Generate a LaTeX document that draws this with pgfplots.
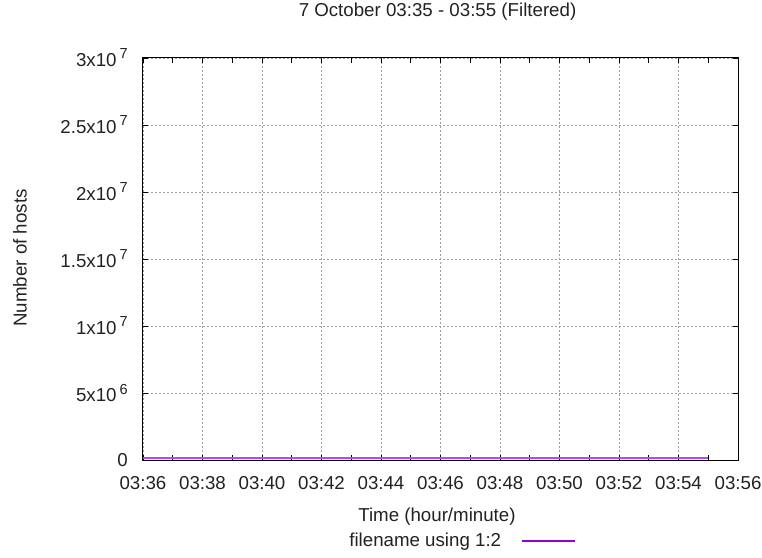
\documentclass[border=0pt]{standalone}
\usepackage{fontspec}
\setmainfont{Liberation Sans}
\usepackage{pgfplots}
\pgfplotsset{compat=1.18}
\definecolor{gpviolet}{HTML}{9400D3}
\definecolor{txtgray}{HTML}{222222}
\newcommand{\sci}[2]{#1x10\,\raisebox{0.42em}{\fontsize{14.5}{15}\selectfont #2}}
\newcommand{\bigfont}{\fontsize{18.7}{22}\selectfont}

\begin{document}
\bigfont
\begin{tikzpicture}[x=1pt,y=1pt,font=\bigfont]
\useasboundingbox (-143,-97) rectangle (619,460);
\begin{axis}[
  at={(0,0)}, anchor=south west,
  scale only axis, width=595pt, height=402pt,
  xmin=36, xmax=56, ymin=0, ymax=3e7,
  xtick={36,38,...,56},
  xticklabels={03:36,03:38,03:40,03:42,03:44,03:46,03:48,03:50,03:52,03:54,03:56},
  minor xtick={37,39,...,55},
  ytick={0,5e6,1e7,1.5e7,2e7,2.5e7,3e7},
  yticklabels={0,\sci{5}{6},\sci{1}{7},\sci{1.5}{7},\sci{2}{7},\sci{2.5}{7},\sci{3}{7}},
  scaled y ticks=false,
  xmajorgrids, ymajorgrids,
  major grid style={dash pattern=on 1.6pt off 2.4pt, gray!75, line width=0.7pt},
  tick align=inside,
  major tick length=5pt, minor tick length=5pt,
  every tick/.style={black, line width=0.8pt},
  axis line style={black, line width=1pt},
  xticklabel style={anchor=north, inner sep=0pt, yshift=-16pt, text=txtgray},
  yticklabel style={anchor=east, inner sep=0pt, xshift=-15pt, text=txtgray},
  title={7 October 03:35 - 03:55 (Filtered)},
  title style={at={(axis description cs:0.495,1.0995)}, anchor=center, inner sep=0pt, text=txtgray},
  xlabel={Time (hour/minute)},
  xlabel style={at={(axis description cs:0.494,-0.1418)}, anchor=center, inner sep=0pt, text=txtgray},
  ylabel={Number of hosts},
  ylabel style={at={(axis description cs:-0.2067,0.5025)}, anchor=center, rotate=0, inner sep=0pt, text=txtgray},
  legend plot pos=right,
  legend cell align=right,
  legend style={draw=none, fill=none, at={(axis description cs:0.727,-0.2015)}, anchor=east,
    inner sep=0pt, nodes={inner sep=0pt, text=txtgray}, column sep=20pt},
  legend image code/.code={\draw[#1] (0pt,0pt) -- (53pt,0pt);},
]
\addplot[gpviolet!70, line width=1.6pt, forget plot] coordinates {
(36,1.6e5) (37,1.6e5) (38,1.6e5) (39,1.6e5) (40,1.6e5) (41,1.6e5) (42,1.6e5)
(43,1.6e5) (44,1.6e5) (45,1.6e5) (46,1.6e5) (47,1.6e5) (48,1.6e5) (49,1.6e5)
(50,1.6e5) (51,1.6e5) (52,1.6e5) (53,1.6e5) (54,1.6e5) (55,1.6e5)
};
\addlegendimage{gpviolet, line width=1.2pt}
\addlegendentry{filename using 1:2}
\end{axis}
\end{tikzpicture}
\end{document}
